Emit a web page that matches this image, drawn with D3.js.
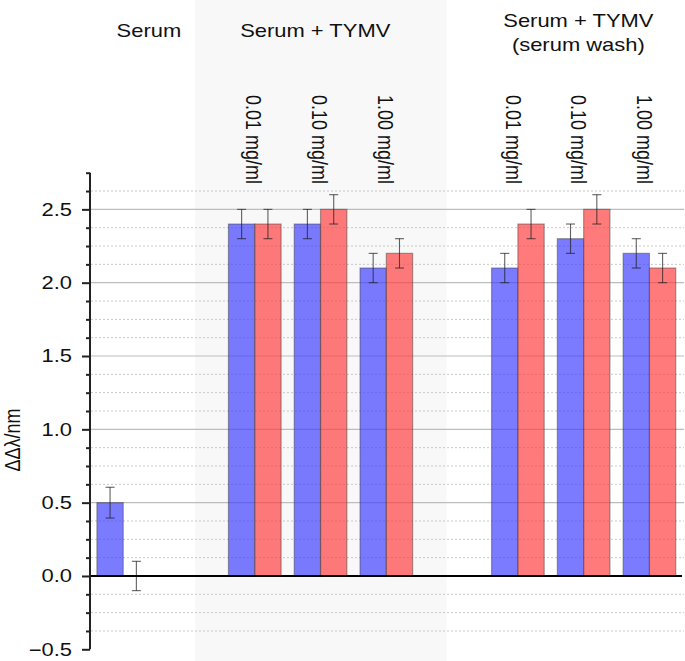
<!DOCTYPE html>
<html><head><meta charset="utf-8">
<script src="https://cdn.jsdelivr.net/npm/d3@7"></script>
<style>body{margin:0;background:#fff}svg{display:block}text{font-family:"Liberation Sans",Arial,Helvetica,sans-serif;fill:#111}</style>
</head><body>
<script>
// slots: 9 positions, empty slots between groups
const slots = ["Serum","gap1","T0.01","T0.10","T1.00","gap2","W0.01","W0.10","W1.00"];
const categories = ["Serum","T0.01","T0.10","T1.00","W0.01","W0.10","W1.00"];
const blueValues = [0.5, 2.4, 2.4, 2.1, 2.1, 2.3, 2.2];
const blueErrors = [0.105, 0.1, 0.1, 0.1, 0.1, 0.1, 0.1];
const redValues  = [0.0, 2.4, 2.5, 2.2, 2.4, 2.5, 2.1];
const redErrors  = [0.1, 0.1, 0.1, 0.1, 0.1, 0.1, 0.1];
const concLabels = ["", "0.01 mg/ml","0.10 mg/ml","1.00 mg/ml","0.01 mg/ml","0.10 mg/ml","1.00 mg/ml"];
const majorTicks = [-0.5, 0.0, 0.5, 1.0, 1.5, 2.0, 2.5];
const tickLabels = ["\u22120.5","0.0","0.5","1.0","1.5","2.0","2.5"];
const minorStep = 0.125;

const W = 685, H = 661;
const SX = 1.22; // horizontal stretch of glyphs seen in the reference
const FS = 18;
const svg = d3.select("body").append("svg").attr("width", W).attr("height", H);

const x = d3.scaleBand().domain(slots).range([90, 682]).paddingInner(0).paddingOuter(0);
const bw = x.bandwidth();
const inner = d3.scaleBand().domain(["blue","red"]).range([0.105*bw, 0.905*bw]).padding(0);
const y = d3.scaleLinear().domain([-0.5, 2.75]).range([649.3, 172.7]);

// shaded region
const shadeL = x("gap1") + 0.6*bw, shadeR = x("gap2") + 0.42*bw;
svg.append("rect").attr("x", shadeL).attr("y", 0).attr("width", shadeR - shadeL).attr("height", H)
  .attr("fill", "#f8f8f8");

// minor dotted grid
const minors = d3.range(-0.5, 2.75 + 1e-9, minorStep).filter(v => Math.abs(v*2 - Math.round(v*2)) > 1e-6);
svg.append("g").selectAll("line").data(minors.filter(v => v < 2.7)).join("line")
  .attr("x1", 91).attr("x2", 684).attr("y1", d => y(d)).attr("y2", d => y(d))
  .attr("stroke", "#c8c8c8").attr("stroke-width", 1).attr("stroke-dasharray", "2,2");
// major solid grid
svg.append("g").selectAll("line").data(majorTicks.filter(v => v > 0)).join("line")
  .attr("x1", 91).attr("x2", 684).attr("y1", d => y(d)).attr("y2", d => y(d))
  .attr("stroke", "#bdbdbd").attr("stroke-width", 1.2);

const data = categories.map((c, i) => ({c, bv: blueValues[i], be: blueErrors[i], rv: redValues[i], re: redErrors[i], lab: concLabels[i]}));

const g = svg.append("g");
data.forEach(d => {
  const x0 = x(d.c);
  [["blue", d.bv, d.be, "rgba(60,60,255,0.68)"], ["red", d.rv, d.re, "rgba(255,60,60,0.68)"]].forEach(([k, v, e, col]) => {
    const bx = x0 + inner(k);
    if (v !== 0) {
      g.append("rect").attr("x", bx).attr("y", y(v)).attr("width", inner.bandwidth())
        .attr("height", y(0) - y(v)).attr("fill", col)
        .attr("stroke", "rgba(60,60,60,0.45)").attr("stroke-width", 1.2);
    }
    const cx = bx + inner.bandwidth()/2;
    const eg = g.append("g").attr("stroke", "rgba(30,30,30,0.7)").attr("stroke-width", 1.1);
    eg.append("line").attr("x1", cx).attr("x2", cx).attr("y1", y(v+e)).attr("y2", y(v-e));
    eg.append("line").attr("x1", cx-4.5).attr("x2", cx+4.5).attr("y1", y(v+e)).attr("y2", y(v+e));
    eg.append("line").attr("x1", cx-4.5).attr("x2", cx+4.5).attr("y1", y(v-e)).attr("y2", y(v-e));
  });
  if (d.lab) {
    const off = d.c.startsWith("W") ? -12 : -8;
    svg.append("text").attr("transform", `translate(${x0 + bw/2 + off},95) scale(${SX},1) rotate(90)`)
      .attr("font-size", FS).text(d.lab);
  }
});

// zero line
svg.append("line").attr("x1", 90).attr("x2", 682).attr("y1", y(0)).attr("y2", y(0))
  .attr("stroke", "#000").attr("stroke-width", 2);

// y axis
const axis = d3.axisLeft(y).tickValues(majorTicks).tickFormat((d, i) => tickLabels[i]).tickSize(8).tickPadding(10);
const ag = svg.append("g").attr("transform", "translate(90,0)").call(axis);
ag.select(".domain").attr("stroke", "#222").attr("stroke-width", 2).attr("d", `M0,${y(2.75)}V${y(-0.5)}`);
ag.selectAll(".tick line").attr("stroke", "#222").attr("stroke-width", 2);
ag.selectAll(".tick text").attr("x", 0).attr("transform", `translate(-18,0) scale(${SX},1)`)
  .attr("font-size", FS).attr("font-family", "Liberation Sans, Arial, sans-serif").attr("fill", "#111");
const minorAxis = d3.axisLeft(y).tickValues(minors).tickFormat("").tickSize(4);
const mg = svg.append("g").attr("transform", "translate(90,0)").call(minorAxis);
mg.select(".domain").remove();
mg.selectAll(".tick line").attr("stroke", "#222").attr("stroke-width", 2);

// axis title
svg.append("text").attr("transform", `translate(20,440) scale(${SX},1) rotate(-90)`).attr("text-anchor", "middle")
  .attr("font-size", FS).text("\u0394\u0394\u03bb/nm");

// group titles
function title(cx, yy, s) {
  svg.append("text").attr("transform", `translate(${cx},${yy}) scale(${SX},1)`).attr("text-anchor", "middle")
    .attr("font-size", FS).text(s);
}
title(x("Serum") + bw/2 + 26, 37, "Serum");
title(x("T0.10") + bw/2 - 5, 37, "Serum + TYMV");
title(x("W0.10") + bw/2 - 5, 27, "Serum + TYMV");
title(x("W0.10") + bw/2 - 5, 51, "(serum wash)");
</script>
</body></html>
